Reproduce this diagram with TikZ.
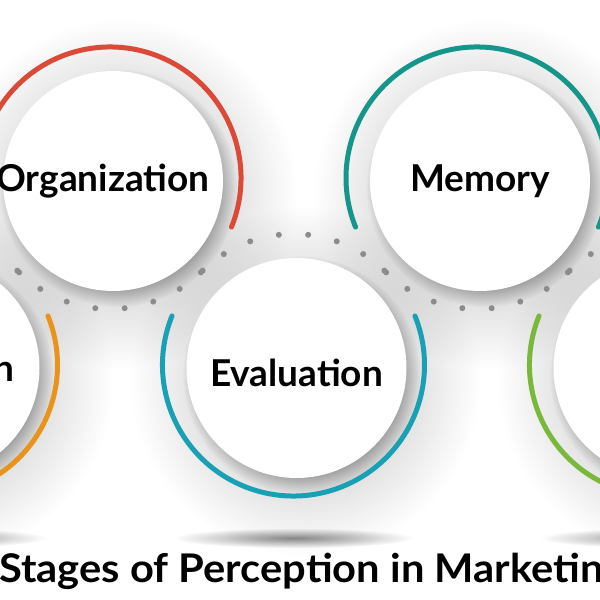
\documentclass[tikz,border=0pt]{standalone}
\usepackage{fontspec}
\setmainfont{Lato}
\newfontfamily\titlefont[FakeStretch=1.055]{Lato}
\usetikzlibrary{fadings}
\definecolor{orgred}{RGB}{219,73,56}
\definecolor{memteal}{RGB}{22,150,138}
\definecolor{evalblue}{RGB}{26,160,181}
\definecolor{stimorange}{RGB}{232,148,28}
\definecolor{recgreen}{RGB}{122,184,60}
\definecolor{dotgray}{RGB}{140,140,140}
\tikzfading[name=softspot,inner color=transparent!0,outer color=transparent!100]
\tikzset{
	stage/.style={circle,fill=white,minimum size=220pt,inner sep=0pt},
	stagetext/.style={inner sep=0pt,font=\bfseries\fontsize{37}{40}\selectfont},
	halo/.style={fill=black,opacity=.3,path fading=softspot},
	rim/.style={fill=black,opacity=.34,path fading=circle with fuzzy edge 20 percent},
	ring/.style={line width=5pt,line cap=round},
	floorshadow/.style={fill=black!45,path fading=softspot},
	title/.style={inner sep=0pt,font=\titlefont\bfseries\fontsize{39.5}{46}\selectfont}
}
\begin{document}
\begin{tikzpicture}[x=1pt,y=1pt]
	\useasboundingbox(0,0)rectangle(600,600);
	\clip(0,0)rectangle(600,600);
	\fill[white](0,0)rectangle(600,600);
	\foreach \n/\x/\y in {stim/-73.5/235,org/110/422,eval/293.5/235,mem/477/422,rec/660.5/235}
		\coordinate(c-\n)at(\x,\y);
	\foreach \x in {-73.5,293.5,660.5}
		\fill[floorshadow](\x,62)ellipse(120 and 10);
	\foreach \n in {stim,org,eval,mem,rec}{
		\fill[halo]([shift={(12,-16)}]c-\n)circle(175);
		\fill[rim]([shift={(8,-10)}]c-\n)circle(119);
	}
	\node[stage,label={[stagetext,xshift=-10pt]center:Stimulation}](stim)at([shift={(3,-3)}]c-stim){};
	\node[stage,label={[stagetext,xshift=-10pt]center:Organization}](org)at([shift={(3,-3)}]c-org){};
	\node[stage,label={[stagetext,yshift=-5pt]center:Evaluation}](eval)at([shift={(3,-3)}]c-eval){};
	\node[stage,label={[stagetext]center:Memory}](mem)at([shift={(3,-3)}]c-mem){};
	\node[stage,label={[stagetext]center:Recall}](rec)at([shift={(3,-3)}]c-rec){};
	\draw[ring,stimorange]([shift={(158:131)}]c-stim)arc(158:382:131);
	\draw[ring,orgred]([shift={(-22:131)}]c-org)arc(-22:202:131);
	\draw[ring,evalblue]([shift={(158:131)}]c-eval)arc(158:382:131);
	\draw[ring,memteal]([shift={(-22:131)}]c-mem)arc(-22:202:131);
	\draw[ring,recgreen]([shift={(158:131)}]c-rec)arc(158:382:131);
	\foreach \n/\a/\s in {stim/135/-1,org/-135/1,eval/135/-1,mem/-135/1,rec/135/-1}
		\foreach \i in {0,...,7}
			\fill[dotgray]([shift={({\a+\s*\i*90/7}:131)}]c-\n)circle(3);
	\node[title,anchor=base west](ttl)at(-1,17){Stages of Perception in Marketing};
\end{tikzpicture}
\end{document}
